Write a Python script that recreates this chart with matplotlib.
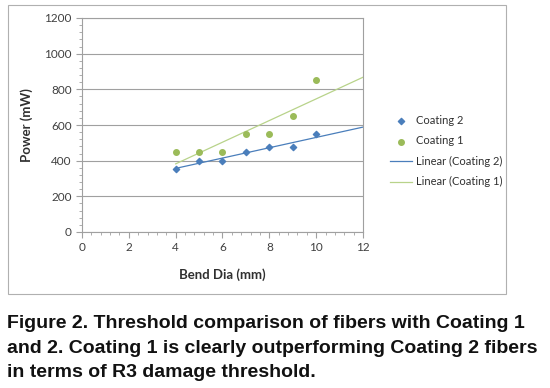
import numpy as np
import matplotlib
matplotlib.use("Agg")
import matplotlib.pyplot as plt
from matplotlib.patches import Rectangle
from matplotlib.ticker import MultipleLocator

# data
bend_dia = [4, 5, 6, 7, 8, 9, 10]
coating2 = [355, 400, 400, 450, 475, 475, 550]
coating1 = [450, 450, 450, 550, 550, 650, 850]

x_ticks = [0, 2, 4, 6, 8, 10, 12]
y_ticks = [0, 200, 400, 600, 800, 1000, 1200]

caption = ("Figure 2. Threshold comparison of fibers with Coating 1\n"
           "and 2. Coating 1 is clearly outperforming Coating 2 fibers\n"
           "in terms of R3 damage threshold.")

blue = "#4a7ebb"
green = "#9bbb59"
green_line = "#b8d38a"
grid_col = "#a0a0a0"
tick_font = "Lato"

W, H = 550, 388
fig = plt.figure(figsize=(W / 100, H / 100), dpi=100)

# outer chart frame
fig.patches.append(Rectangle((8 / W, 1 - 294 / H), 498 / W, 289 / H,
                             transform=fig.transFigure, fill=False,
                             edgecolor="#b0b0b0", linewidth=0.8))

ax = fig.add_axes([82 / W, 1 - 232 / H, 281 / W, 214 / H])
ax.set_xlim(0, 12)
ax.set_ylim(0, 1200)

ax.set_yticks(y_ticks)
ax.set_xticks(x_ticks)
ax.xaxis.set_minor_locator(MultipleLocator(0.4))
ax.yaxis.set_minor_locator(MultipleLocator(40))
ax.grid(axis="y", color=grid_col, linewidth=0.8)
ax.set_axisbelow(True)
for s in ax.spines.values():
    s.set_color(grid_col)
    s.set_linewidth(0.8)
ax.tick_params(which="both", colors=grid_col, labelcolor="#404040",
               labelsize=8.5, direction="out")
ax.tick_params(which="major", length=4)
ax.tick_params(which="minor", length=2)
for lab in ax.get_xticklabels() + ax.get_yticklabels():
    lab.set_family(tick_font)

ax.scatter(bend_dia, coating2, marker="D", s=10, color=blue, zorder=3,
           label="Coating 2")
ax.scatter(bend_dia, coating1, marker="o", s=16, color=green, zorder=3,
           label="Coating 1")

# linear trendlines, forecast forward to x = 12
xs = np.array([bend_dia[0], 12])
for ys, col, lab in [(coating2, blue, "Linear (Coating 2)"),
                     (coating1, green_line, "Linear (Coating 1)")]:
    m, b = np.polyfit(bend_dia, ys, 1)
    ax.plot(xs, m * xs + b, color=col, linewidth=0.9, label=lab, zorder=2)

ax.set_xlabel("Bend Dia (mm)", fontsize=9.5, fontweight="bold",
              family=tick_font, color="#303030", labelpad=11)
ax.set_ylabel("Power (mW)", fontsize=9.5, fontweight="bold",
              family=tick_font, color="#303030", labelpad=8)

leg = ax.legend(loc="upper left", bbox_to_anchor=(380 / W, 1 - 105 / H),
                bbox_transform=fig.transFigure, frameon=False,
                prop={"family": tick_font, "size": 8},
                handlelength=2.0, handletextpad=0.3, labelspacing=0.85,
                scatterpoints=1)
for t in leg.get_texts():
    t.set_color("#303030")

fig.text(7 / W, 1 - 315 / H, caption, ha="left", va="top",
         fontsize=14, fontweight="bold", family="Liberation Sans",
         linespacing=1.58, color="#111111")

fig.savefig("out.png", dpi=100)
